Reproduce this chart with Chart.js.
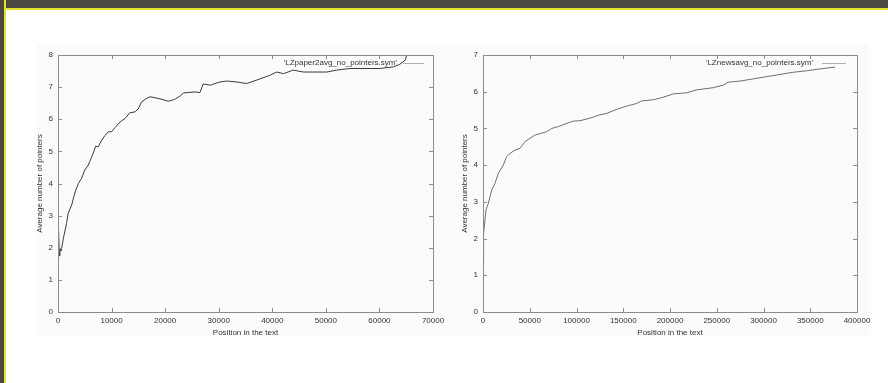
<!DOCTYPE html>
<html>
<head>
<meta charset="utf-8">
<script src="https://cdn.jsdelivr.net/npm/chart.js@4.4.0/dist/chart.umd.min.js"></script>
<style>
  body { margin: 0; width: 888px; height: 383px; background: #fff; position: relative; overflow: hidden; }
  #topbar { position: absolute; left: 0; top: 0; width: 888px; height: 8px; background: #4a4840; border-bottom: 2px solid #e8e22c; }
  #leftbar { position: absolute; left: 0; top: 0; width: 4px; height: 383px; background: #4a4840; border-right: 2px solid #e8e22c; }
  .panel { position: absolute; top: 44px; height: 292px; background: #fbfbfb; }
  .box { position: absolute; top: 40px; }
</style>
</head>
<body>
<div id="topbar"></div>
<div id="leftbar"></div>
<div class="panel" style="left:37px;width:424px"></div>
<div class="panel" style="left:461px;width:408px"></div>
<canvas id="paper" class="box" width="440" height="300" style="left:20px"></canvas>
<canvas id="news" class="box" width="440" height="300" style="left:445px"></canvas>
<script>
// LZpaper2avg_no_pointers.sym
const paperX = [0, 100, 250, 370, 600, 1000, 1600, 1900, 2550, 3200, 3800, 4400, 5000, 5650, 6300, 6800, 7000, 7500, 8150, 8800,
  9400, 10000, 10650, 11600, 12500, 13400, 14400, 15000, 15600, 16550, 17200, 18100, 19400, 20600, 21800, 22800, 23400, 25600,
  26500, 27100, 28400, 30200, 31500, 33400, 35200, 37100, 39600, 40800, 42100, 43900, 45800, 47700, 50200, 52000, 54500, 60100,
  62600, 63800, 64800, 65100, 65300];
const paperY = [1.62, 2.55, 1.75, 1.99, 1.9, 2.29, 2.76, 3.07, 3.33, 3.74, 4.0, 4.16, 4.42, 4.57, 4.83, 5.04, 5.16, 5.14, 5.35, 5.5,
  5.61, 5.61, 5.74, 5.92, 6.02, 6.2, 6.23, 6.33, 6.54, 6.65, 6.7, 6.67, 6.62, 6.56, 6.62, 6.72, 6.82, 6.85,
  6.83, 7.1, 7.06, 7.16, 7.19, 7.16, 7.11, 7.22, 7.37, 7.47, 7.42, 7.53, 7.47, 7.47, 7.47, 7.53, 7.58, 7.58,
  7.63, 7.71, 7.84, 8.0, 8.2];

// LZnewsavg_no_pointers.sym
const newsX = [0, 300, 1000, 3200, 5700, 9300, 12800, 16400, 21700, 25300, 28900, 34200, 39600, 44900, 50300, 55600, 62800, 68100,
  73500, 80500, 87700, 96600, 103700, 114400, 125100, 132300, 143000, 153700, 164400, 169700, 182100, 192800, 203500, 217900,
  228500, 246300, 257000, 262400, 274900, 289100, 303400, 317600, 331900, 346200, 360400, 376500];
const newsY = [1.33, 1.69, 2.14, 2.78, 2.96, 3.32, 3.5, 3.78, 4.0, 4.23, 4.32, 4.41, 4.46, 4.64, 4.73, 4.82, 4.87, 4.91,
  5.0, 5.05, 5.12, 5.2, 5.21, 5.28, 5.37, 5.41, 5.52, 5.61, 5.68, 5.75, 5.78, 5.85, 5.94, 5.97,
  6.05, 6.11, 6.18, 6.26, 6.29, 6.35, 6.41, 6.47, 6.53, 6.57, 6.62, 6.67];

const xTitle = "Position in the text";
const yTitle = "Average number of pointers";

const family = '"Liberation Sans", Arial, sans-serif';

// gnuplot look: box, inward mirrored ticks, key in the top right corner
const gnuplotFrame = {
  id: "gnuplotFrame",
  afterDatasetsDraw(chart, args, opts) {
    const ctx = chart.ctx;
    const a = chart.chartArea;
    const x = chart.scales.x;
    const y = chart.scales.y;
    ctx.save();
    ctx.strokeStyle = "#8c8c8c";
    ctx.lineWidth = 1;
    ctx.strokeRect(Math.round(a.left) + 0.5, Math.round(a.top) + 0.5, Math.round(a.right - a.left), Math.round(a.bottom - a.top));
    ctx.beginPath();
    x.ticks.forEach(t => {
      const px = Math.round(x.getPixelForValue(t.value)) + 0.5;
      ctx.moveTo(px, a.bottom); ctx.lineTo(px, a.bottom - 4);
      ctx.moveTo(px, a.top); ctx.lineTo(px, a.top + 4);
    });
    y.ticks.forEach(t => {
      const py = Math.round(y.getPixelForValue(t.value)) + 0.5;
      ctx.moveTo(a.left, py); ctx.lineTo(a.left + 4, py);
      ctx.moveTo(a.right, py); ctx.lineTo(a.right - 4, py);
    });
    ctx.stroke();

    const ly = a.top + 8;
    ctx.font = "8px " + family;
    ctx.fillStyle = "#333";
    ctx.textAlign = "right";
    ctx.textBaseline = "middle";
    ctx.fillText(chart.data.datasets[0].label, a.right - opts.textGap, ly);
    ctx.strokeStyle = "#b0b0b0";
    ctx.beginPath();
    ctx.moveTo(a.right - opts.lineFrom, Math.round(ly) + 0.5);
    ctx.lineTo(a.right - opts.lineTo, Math.round(ly) + 0.5);
    ctx.stroke();
    ctx.restore();
  }
};

function makeChart(id, label, xs, ys, color, xMax, xStep, yMax, rightPad, key) {
  return new Chart(id, {
    type: "line",
    data: {
      datasets: [{
        label: label,
        data: xs.map((v, i) => ({ x: v, y: ys[i] })),
        borderColor: color,
        borderWidth: 1,
        pointRadius: 0,
        tension: 0,
        fill: false
      }]
    },
    options: {
      responsive: false,
      animation: false,
      layout: { padding: { left: 0, right: rightPad, top: 15, bottom: 0 } },
      plugins: {
        legend: { display: false },
        tooltip: { enabled: false },
        gnuplotFrame: key
      },
      scales: {
        x: {
          type: "linear",
          min: 0,
          max: xMax,
          grid: { display: false, drawTicks: false },
          border: { display: false },
          ticks: {
            stepSize: xStep,
            padding: 4,
            color: "#333",
            maxRotation: 0,
            autoSkip: false,
            font: { size: 8, family: family },
            callback: v => String(v)
          },
          title: { display: true, text: xTitle, color: "#333", font: { size: 8, family: family }, padding: { top: 0, bottom: 2 } },
          afterFit: s => { s.height = 28; }
        },
        y: {
          type: "linear",
          min: 0,
          max: yMax,
          grid: { display: false, drawTicks: false },
          border: { display: false },
          ticks: {
            stepSize: 1,
            padding: 5,
            color: "#333",
            font: { size: 8, family: family }
          },
          title: { display: true, text: yTitle, color: "#333", font: { size: 8, family: family }, padding: { top: 15, bottom: 0 } },
          afterFit: s => { s.width = 38; }
        }
      }
    },
    plugins: [gnuplotFrame]
  });
}

makeChart("paper", "'LZpaper2avg_no_pointers.sym'", paperX, paperY, "#3a3a3a", 70000, 10000, 8, 27,
  { textGap: 36, lineFrom: 30, lineTo: 9 });
makeChart("news", "'LZnewsavg_no_pointers.sym'", newsX, newsY, "#6e6e6e", 400000, 50000, 7, 28,
  { textGap: 44, lineFrom: 35, lineTo: 11 });
</script>
</body>
</html>
